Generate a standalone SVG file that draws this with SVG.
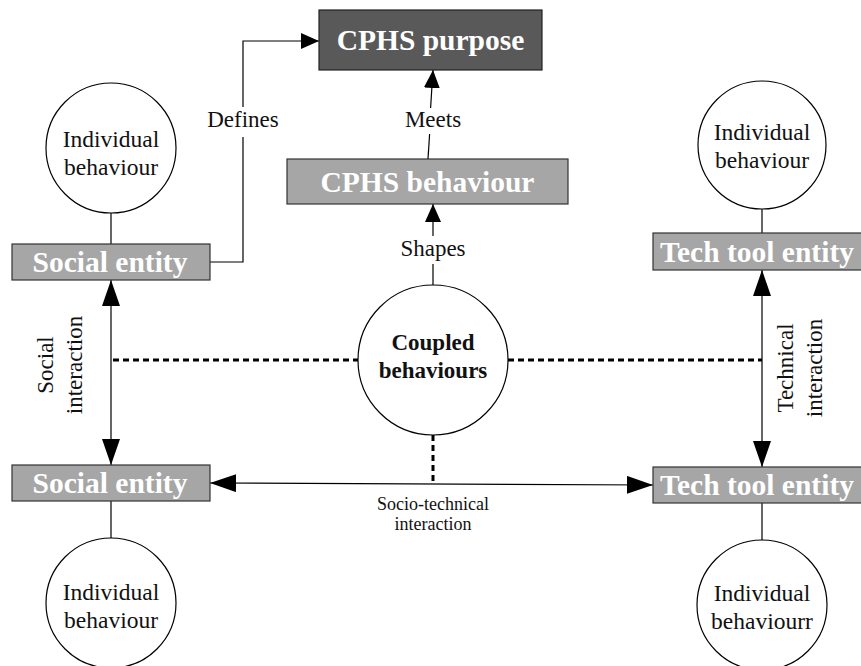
<svg xmlns="http://www.w3.org/2000/svg" width="861" height="666" viewBox="0 0 861 666">
<style>
.bg{fill:#ffffff}
.circ{fill:#ffffff;stroke:#000;stroke-width:1.2}
.boxd{fill:#595959;stroke:#222;stroke-width:1.2}
.boxl{fill:#a6a6a6;stroke:#333;stroke-width:1.2}
.bt{font-family:"Liberation Serif","Times New Roman",serif;font-weight:bold;font-size:29.5px;fill:#fff;text-anchor:middle}
.ct{font-family:"Liberation Serif","Times New Roman",serif;font-size:23.5px;fill:#111;text-anchor:middle}
.cb{font-family:"Liberation Serif","Times New Roman",serif;font-weight:bold;font-size:23px;fill:#111;text-anchor:middle}
.lb{font-family:"Liberation Serif","Times New Roman",serif;font-size:23px;fill:#111;text-anchor:middle}
.sm{font-family:"Liberation Serif","Times New Roman",serif;font-size:18px;fill:#111;text-anchor:middle}
.ln{fill:none;stroke:#000;stroke-width:1.2}
.dot{fill:none;stroke:#000;stroke-width:3;stroke-dasharray:6 4}
</style>
<defs>
<marker id="arrS" markerWidth="18" markerHeight="16" refX="18" refY="8" orient="auto-start-reverse" markerUnits="userSpaceOnUse"><path d="M0,0 L18,8 L0,16 z" fill="#000"/></marker>
<marker id="arrL" markerWidth="26" markerHeight="18" refX="26" refY="9" orient="auto-start-reverse" markerUnits="userSpaceOnUse"><path d="M0,0 L26,9 L0,18 z" fill="#000"/></marker>
</defs>
<rect class="bg" x="0" y="0" width="861" height="666"/>

<g id="connectors">
<path class="ln" d="M210,262 H243 V137"/>
<path class="ln" d="M243,107 V41 H319" marker-end="url(#arrS)"/>
<text class="lb" x="243" y="127">Defines</text>
<path class="ln" d="M428,159 L429.6,134"/>
<path class="ln" d="M430.6,108 L433,70" marker-end="url(#arrS)"/>
<text class="lb" x="433" y="127">Meets</text>
<path class="ln" d="M433,285 V264"/>
<path class="ln" d="M433,236 V204" marker-end="url(#arrS)"/>
<text class="lb" x="433" y="256">Shapes</text>
<path class="ln" d="M111,213 V244"/>
<path class="ln" d="M111,501 V538"/>
<path class="ln" d="M762,209 V233"/>
<path class="ln" d="M762,503 V540"/>
<path class="ln" d="M111,280 V465" marker-start="url(#arrL)" marker-end="url(#arrL)"/>
<text class="lb" transform="translate(53,365) rotate(-90)">Social</text>
<text class="lb" transform="translate(82,365) rotate(-90)">interaction</text>
<path class="ln" d="M762,270 V467" marker-start="url(#arrL)" marker-end="url(#arrL)"/>
<text class="lb" transform="translate(793,368) rotate(-90)">Technical</text>
<text class="lb" transform="translate(822,368) rotate(-90)">interaction</text>
<path class="ln" d="M210,483 L653,485" marker-start="url(#arrL)" marker-end="url(#arrL)"/>
<text class="sm" x="433" y="510">Socio-technical</text>
<text class="sm" x="433" y="530">interaction</text>
<path class="dot" d="M113,360 H358"/>
<path class="dot" d="M508,360 H762"/>
<path class="dot" d="M433,435 V484"/>
</g>

<g id="cphs-purpose">
<rect class="boxd" x="319" y="10" width="223" height="60"/>
<text class="bt" x="430.5" y="50">CPHS purpose</text>
</g>
<g id="cphs-behaviour">
<rect class="boxl" x="287" y="159" width="281" height="45"/>
<text class="bt" x="427.5" y="192">CPHS behaviour</text>
</g>
<g id="social-entity-top">
<rect class="boxl" x="12" y="244" width="198" height="36"/>
<text class="bt" x="110" y="272">Social entity</text>
</g>
<g id="social-entity-bottom">
<rect class="boxl" x="12" y="465" width="198" height="36"/>
<text class="bt" x="110" y="493">Social entity</text>
</g>
<g id="tech-entity-top">
<rect class="boxl" x="653" y="233" width="212" height="37"/>
<text class="bt" x="757" y="262">Tech tool entity</text>
</g>
<g id="tech-entity-bottom">
<rect class="boxl" x="653" y="467" width="212" height="36"/>
<text class="bt" x="757" y="495">Tech tool entity</text>
</g>
<g id="indiv-left-top">
<circle class="circ" cx="111" cy="148" r="65"/>
<text class="ct" x="111" y="147">Individual</text>
<text class="ct" x="111" y="175">behaviour</text>
</g>
<g id="indiv-right-top">
<circle class="circ" cx="762" cy="145" r="64"/>
<text class="ct" x="762" y="140">Individual</text>
<text class="ct" x="762" y="168">behaviour</text>
</g>
<g id="indiv-left-bottom">
<circle class="circ" cx="111" cy="603" r="65"/>
<text class="ct" x="111" y="600">Individual</text>
<text class="ct" x="111" y="628">behaviour</text>
</g>
<g id="indiv-right-bottom">
<circle class="circ" cx="762" cy="605" r="65"/>
<text class="ct" x="762" y="601">Individual</text>
<text class="ct" x="762" y="629">behaviourr</text>
</g>
<g id="coupled">
<circle class="circ" cx="433" cy="360" r="75"/>
<text class="cb" x="433" y="350">Coupled</text>
<text class="cb" x="433" y="378">behaviours</text>
</g>
</svg>
